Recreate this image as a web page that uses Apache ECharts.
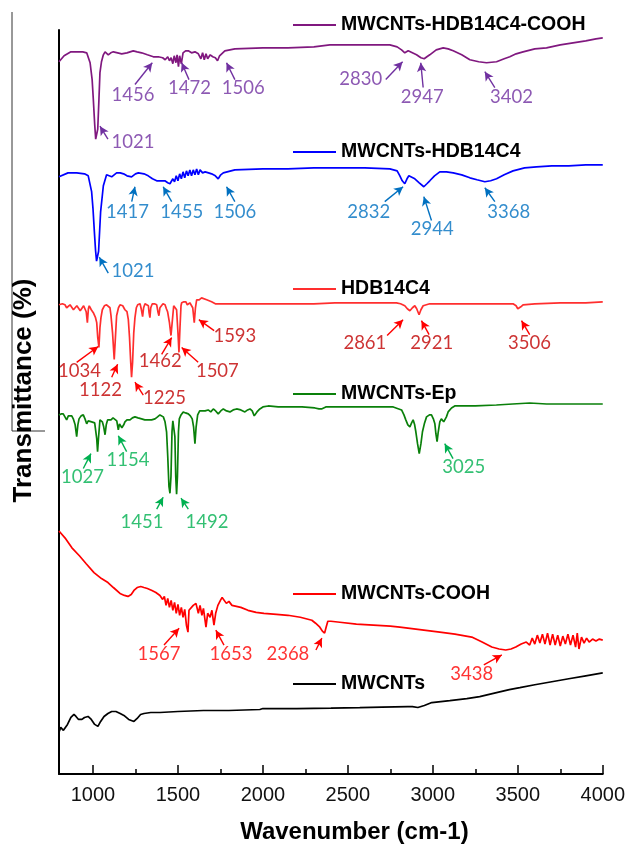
<!DOCTYPE html>
<html>
<head>
<meta charset="utf-8">
<script src="https://cdn.jsdelivr.net/npm/echarts@6/dist/echarts.min.js"></script>
<style>
html,body{margin:0;padding:0;background:#fff;}
#chart{width:628px;height:849px;}
</style>
</head>
<body>
<div id="chart"></div>
<script>
// ---------- data (wavenumber in cm-1, transmittance in arbitrary stacked units) ----------
const wnTicks = [1000, 1500, 2000, 2500, 3000, 3500, 4000];
const wnMinorTicks = [1250, 1750, 2250, 2750, 3250, 3750];

const seriesNames = ['MWCNTs-HDB14C4-COOH', 'MWCNTs-HDB14C4', 'HDB14C4', 'MWCNTs-Ep', 'MWCNTs-COOH', 'MWCNTs'];

const cooh14Wn = [800,830,870,940,963,983,995,1002,1010,1016,1022,1028,1035,1041,1050,1061,1071,1090,1105,1120,1145,1169,1200,1237,1260,1286,1320,1355,1384,1410,1425,1440,1450,1460,1470,1478,1488,1495,1503,1510,1520,1530,1545,1561,1580,1600,1620,1635,1645,1655,1665,1675,1690,1705,1720,1733,1745,1776,1835,2000,2147,2300,2394,2600,2747,2790,2816,2835,2845,2855,2865,2904,2930,2949,2965,2982,3020,3061,3090,3120,3170,3218,3270,3316,3375,3420,3453,3490,3531,3600,3669,3750,3825,3900,3960,4000];
const cooh14T  = [718,724,728,728,727,717,700,680,655,640,638,650,680,707,718,725,728,725,727,728,727,726,727,729,728,727,725,723,723,722,720,723,719,722,716,724,717,725,713,724,716,727,729,729,727,728,726,721,727,720,726,721,725,723,722,719,724,729,731,732,732,733,735,735,735,733,730,727,726,729,728,725,722,721,723,725,730,732,731,729,725,720,718,717,718,721,723,726,728,731,732,735,737,739,741,742];

const hdbCntWn = [800,853,904,950,972,992,1000,1008,1015,1021,1027,1033,1045,1061,1080,1095,1110,1139,1160,1180,1200,1227,1250,1267,1300,1325,1350,1375,1400,1423,1440,1453,1470,1480,1490,1500,1510,1520,1530,1540,1550,1560,1570,1580,1590,1600,1610,1620,1630,1645,1660,1680,1698,1720,1737,1752,1767,1835,2000,2147,2300,2423,2600,2747,2790,2806,2820,2835,2848,2859,2894,2920,2947,2965,2982,3010,3041,3080,3120,3170,3218,3260,3306,3340,3375,3420,3472,3540,3610,3700,3800,3900,4000];
const hdbCntT  = [602,606,606,605,603,587,570,547,528,517,519,527,567,593,604,603,602,606,606,605,603,602,605,606,605,603,600,598,598,598,596,595,600,597,603,598,605,600,607,601,608,603,609,603,609,604,610,604,609,606,607,606,605,603,600,604,606,609,610,610,611,611,611,610,608,603,598,595,600,603,600,596,592,595,598,603,607,607,606,604,601,599,597,598,600,604,608,611,612,613,613,614,614];

const hdbWn = [800,820,835,845,855,865,875,885,894,905,914,925,933,945,953,960,967,973,978,990,1002,1015,1022,1028,1035,1041,1047,1055,1067,1080,1090,1100,1106,1115,1125,1132,1139,1150,1159,1175,1188,1200,1208,1215,1222,1227,1233,1240,1247,1255,1263,1277,1285,1292,1298,1306,1316,1326,1330,1335,1340,1349,1362,1375,1382,1388,1394,1400,1412,1424,1432,1439,1450,1459,1466,1475,1484,1492,1500,1506,1512,1518,1522,1535,1547,1555,1561,1570,1580,1587,1596,1603,1610,1625,1639,1650,1669,1680,1698,1720,1757,1850,1953,2050,2149,2300,2424,2600,2786,2810,2835,2850,2865,2880,2894,2905,2919,2930,2943,2962,2982,3100,3250,3400,3472,3490,3500,3508,3518,3531,3600,3750,3900,4000];
const hdbT  = [473,474,473,470,470,473,473,468,468,472,472,467,468,472,470,466,455,469,472,468,465,460,455,440,430,450,460,468,472,473,473,470,462,445,418,440,462,470,473,472,468,466,458,440,415,400,415,445,460,470,473,474,468,461,470,474,472,472,465,460,470,474,474,473,466,462,470,472,474,473,469,466,455,442,455,472,470,468,445,425,450,472,475,476,476,473,471,475,475,470,455,470,478,478,480,478,478,476,476,474,474,474,474,474,474,474,475,475,475,474,472,469,467,470,472,469,463,468,472,473,474,474,474,474,474,472,469,468,471,473,474,475,475,476];

const epWn = [800,812,825,835,845,855,865,875,884,895,904,911,918,930,943,953,963,972,982,992,1002,1010,1016,1022,1027,1033,1041,1048,1055,1063,1071,1078,1086,1096,1106,1118,1129,1140,1149,1156,1163,1170,1175,1181,1188,1200,1218,1232,1247,1265,1286,1305,1326,1345,1365,1380,1394,1405,1414,1424,1433,1440,1447,1453,1459,1465,1470,1477,1482,1487,1492,1497,1503,1508,1518,1531,1545,1561,1573,1584,1592,1600,1607,1616,1628,1639,1660,1678,1693,1708,1722,1737,1752,1767,1786,1806,1825,1845,1870,1894,1910,1924,1937,1949,1965,1982,2000,2031,2090,2149,2230,2306,2330,2345,2370,2424,2600,2767,2816,2830,2841,2853,2865,2875,2884,2893,2900,2910,2920,2930,2939,2950,2963,2980,2992,3003,3012,3018,3025,3032,3041,3050,3057,3064,3070,3080,3090,3110,3129,3250,3374,3470,3570,3670,3767,3880,4000];
const epT  = [362,363,363,360,357,361,363,361,358,352,340,352,358,361,362,358,353,356,357,355,355,354,352,338,325,340,357,357,355,350,342,352,357,358,357,359,361,356,347,353,353,349,347,352,355,357,357,359,360,359,358,357,357,357,358,360,362,361,360,355,345,320,290,283,300,345,356,358,340,300,282,300,345,358,362,365,364,363,361,358,350,333,350,362,366,368,366,367,365,368,366,363,366,368,366,365,367,368,367,365,367,368,366,361,365,368,370,371,370,370,370,369,368,368,370,370,370,370,367,362,357,352,350,354,357,352,345,333,323,333,345,353,360,362,362,358,353,343,335,345,355,358,358,355,355,360,365,369,371,371,372,373,374,373,373,373,373];

const coohWn = [800,840,876,920,960,1006,1050,1088,1120,1159,1185,1206,1225,1241,1260,1281,1300,1320,1347,1370,1394,1410,1420,1430,1440,1450,1460,1470,1480,1490,1500,1510,1520,1530,1540,1550,1559,1565,1576,1590,1606,1620,1630,1641,1650,1665,1675,1689,1700,1712,1722,1735,1750,1760,1771,1785,1800,1818,1870,1912,1960,2006,2080,2147,2220,2288,2310,2335,2350,2363,2372,2382,2400,2453,2550,2650,2750,2806,2900,3041,3130,3229,3290,3347,3390,3429,3460,3488,3520,3550,3570,3585,3600,3615,3630,3645,3660,3675,3690,3705,3720,3735,3750,3765,3780,3795,3810,3825,3840,3850,3860,3875,3890,3905,3920,3940,3960,3980,4000];
const coohT  = [245,237,228,220,212,203,197,193,188,182,180,179,181,185,188,189,188,187,185,183,180,176,179,170,177,168,175,165,173,162,171,160,168,158,166,150,143,165,163,170,172,162,170,160,167,148,162,158,165,150,162,170,175,178,176,172,174,170,168,165,163,162,161,160,158,155,152,148,144,142,148,154,154,153,151,150,149,148,146,143,141,138,133,128,126,125,126,128,131,133,130,137,131,140,132,141,131,142,130,141,130,140,129,139,131,141,130,140,128,142,126,138,132,137,133,136,134,136,135];

const cntWn = [800,810,818,826,834,850,870,888,900,915,935,950,971,990,1010,1029,1045,1065,1088,1110,1135,1160,1182,1210,1241,1260,1280,1300,1340,1394,1500,1650,1800,1982,2000,2010,2200,2400,2570,2700,2853,2880,2912,2950,2994,3100,3200,3276,3350,3400,3450,3512,3600,3700,3800,3900,4000];
const cntT  = [42,47,48,44,44,50,57,60,58,55,55,57,58,55,50,48,53,58,61,63,63,61,59,55,53,56,60,61,62,62,63,64,64,65,66,65,66,66.5,67,67.5,68,68,67,69,72,74,76,78,81,83,85,87,90,93,96,99,102];

// peak annotation texts per spectrum
const cooh14Peaks = ['1021', '1456', '1472', '1506', '2830', '2947', '3402'];
const hdbCntPeaks = ['1021', '1417', '1455', '1506', '2832', '2944', '3368'];
const hdbPeaks    = ['1034', '1122', '1225', '1462', '1507', '1593', '2861', '2921', '3506'];
const epPeaks     = ['1027', '1154', '1451', '1492', '3025'];
const coohPeaks   = ['1567', '1653', '2368', '3438'];

// ---------- layout of the annotations (label centre, arrow tail, arrow tip; in axis units) ----------
const cooh14Layout = [
  [[1235,637],[1088,640],[1041,653]],
  [[1235,684],[1247,695],[1349,717]],
  [[1568,692],[1565,700],[1522,717]],
  [[1884,692],[1835,700],[1786,717]],
  [[2576,701],[2723,700],[2822,718]],
  [[2938,682],[2943,692],[2929,717]],
  [[3463,682],[3365,692],[3306,708]]
];
const hdbCntLayout = [
  [[1235,507],[1090,505],[1037,521]],
  [[1203,566],[1228,577],[1247,592]],
  [[1522,566],[1463,577],[1413,592]],
  [[1835,566],[1835,577],[1786,592]],
  [[2623,567],[2717,577],[2825,592]],
  [[2997,549],[2992,558],[2947,582]],
  [[3447,567],[3365,577],[3306,591]]
];
const hdbLayout = [
  [[921,406],[904,415],[1031,431]],
  [[1044,387],[1110,400],[1145,413]],
  [[1421,379],[1296,382],[1247,395]],
  [[1396,416],[1404,423],[1463,440]],
  [[1732,406],[1619,415],[1522,430]],
  [[1835,441],[1713,447],[1623,458]],
  [[2600,434],[2731,442],[2825,458]],
  [[2994,434],[2978,443],[2933,457]],
  [[3569,434],[3570,443],[3522,457]]
];
const epLayout = [
  [[938,299],[943,308],[988,323]],
  [[1206,317],[1198,325],[1149,341]],
  [[1288,254],[1375,267],[1413,279]],
  [[1671,254],[1561,267],[1518,278]],
  [[3182,309],[3119,318],[3070,333]]
];
const coohLayout = [
  [[1388,121],[1418,130],[1507,147]],
  [[1812,121],[1771,130],[1723,145]],
  [[2147,121],[2312,125],[2347,137]],
  [[3229,101],[3300,110],[3406,120]]
];

// ---------- styles ----------
const lineColors = ['#80187F', '#0000FF', '#FF2E2E', '#0A800A', '#FF0000', '#000000'];
const annot = [
  {peaks: cooh14Peaks, layout: cooh14Layout, text: '#7030A0', arrow: '#7030A0'},
  {peaks: hdbCntPeaks, layout: hdbCntLayout, text: '#0070C0', arrow: '#0070C0'},
  {peaks: hdbPeaks,    layout: hdbLayout,    text: '#C00000', arrow: '#FF0000'},
  {peaks: epPeaks,     layout: epLayout,     text: '#00B050', arrow: '#00B050'},
  {peaks: coohPeaks,   layout: coohLayout,   text: '#FF0000', arrow: '#FF0000'}
];
const legendTops = [15, 142, 279, 384, 584, 674];

const spectra = [
  [cooh14Wn, cooh14T], [hdbCntWn, hdbCntT], [hdbWn, hdbT],
  [epWn, epT], [coohWn, coohT], [cntWn, cntT]
];

const series = spectra.map((s, i) => ({
  name: seriesNames[i],
  type: 'line',
  xAxisIndex: 0,
  data: s[0].map((w, k) => [w, s[1][k]]),
  symbol: 'none',
  showSymbol: false,
  lineStyle: {color: lineColors[i], width: 1.7},
  itemStyle: {color: lineColors[i]},
  silent: true,
  z: 3
}));

annot.forEach((a, i) => {
  series.push({
    name: 'peaks' + i,
    type: 'scatter',
    xAxisIndex: 0,
    symbolSize: 0,
    silent: true,
    z: 5,
    data: a.peaks.map((p, k) => ({name: p, value: a.layout[k][0]})),
    label: {
      show: true, position: 'inside', formatter: '{b}',
      color: a.text, fontSize: 18.5, fontFamily: 'Lato', fontWeight: 'normal'
    },
    markLine: {
      silent: true,
      symbol: ['none', 'arrow'],
      symbolSize: [7, 9],
      label: {show: false},
      lineStyle: {color: a.arrow, width: 1.4, type: 'solid'},
      emphasis: {disabled: true},
      data: a.layout.map(l => [{coord: l[1]}, {coord: l[2]}])
    }
  });
});

const legends = seriesNames.map((n, i) => ({
  data: [{name: n, icon: 'rect', itemStyle: {color: lineColors[i]}}],
  left: 293,
  top: legendTops[i],
  padding: 0,
  itemWidth: 43,
  itemHeight: 2,
  selectedMode: false,
  textStyle: {fontSize: 19.5, fontWeight: 'bold', color: '#000', fontFamily: 'Liberation Sans'}
}));

const chart = echarts.init(document.getElementById('chart'), null, {renderer: 'canvas'});
chart.setOption({
  animation: false,
  backgroundColor: '#fff',
  grid: {left: 59, right: 25, top: 30, bottom: 69, containLabel: false},
  legend: legends,
  xAxis: [{
    type: 'value', min: 800, max: 4000,
    axisLine: {show: true, lineStyle: {color: '#000', width: 2}},
    axisTick: {show: true, inside: true, length: 9, customValues: wnTicks, lineStyle: {color: '#000', width: 1.5}},
    axisLabel: {show: true, customValues: wnTicks, formatter: v => String(v), fontSize: 20, color: '#111', margin: 11, fontFamily: 'Liberation Sans'},
    splitLine: {show: false},
    name: 'Wavenumber (cm-1)', nameLocation: 'middle', nameGap: 46,
    nameTextStyle: {fontSize: 24, fontWeight: 'bold', color: '#000', fontFamily: 'Liberation Sans', padding: [0, 0, 0, 47]}
  }, {
    type: 'value', min: 800, max: 4000, position: 'bottom', gridIndex: 0,
    axisLine: {show: false},
    axisTick: {show: true, inside: true, length: 5, customValues: wnMinorTicks, lineStyle: {color: '#000', width: 1.5}},
    axisLabel: {show: false},
    splitLine: {show: false}
  }],
  yAxis: {
    type: 'value', min: 0, max: 750,
    axisLine: {show: true, lineStyle: {color: '#000', width: 2}},
    axisTick: {show: false},
    axisLabel: {show: false},
    splitLine: {show: false},
    name: 'Transmittance (%)', nameLocation: 'middle', nameRotate: 90, nameGap: 22,
    nameTextStyle: {fontSize: 26, fontWeight: 'bold', color: '#000', fontFamily: 'Liberation Sans', padding: [0, 0, 0, 23]}
  },
  graphic: [
    {type: 'line', shape: {x1: 12, y1: 12, x2: 12, y2: 431}, style: {stroke: '#333', lineWidth: 1}, silent: true},
    {type: 'line', shape: {x1: 12, y1: 431, x2: 45, y2: 431}, style: {stroke: '#333', lineWidth: 1}, silent: true}
  ],
  series: series
});
</script>
</body>
</html>
